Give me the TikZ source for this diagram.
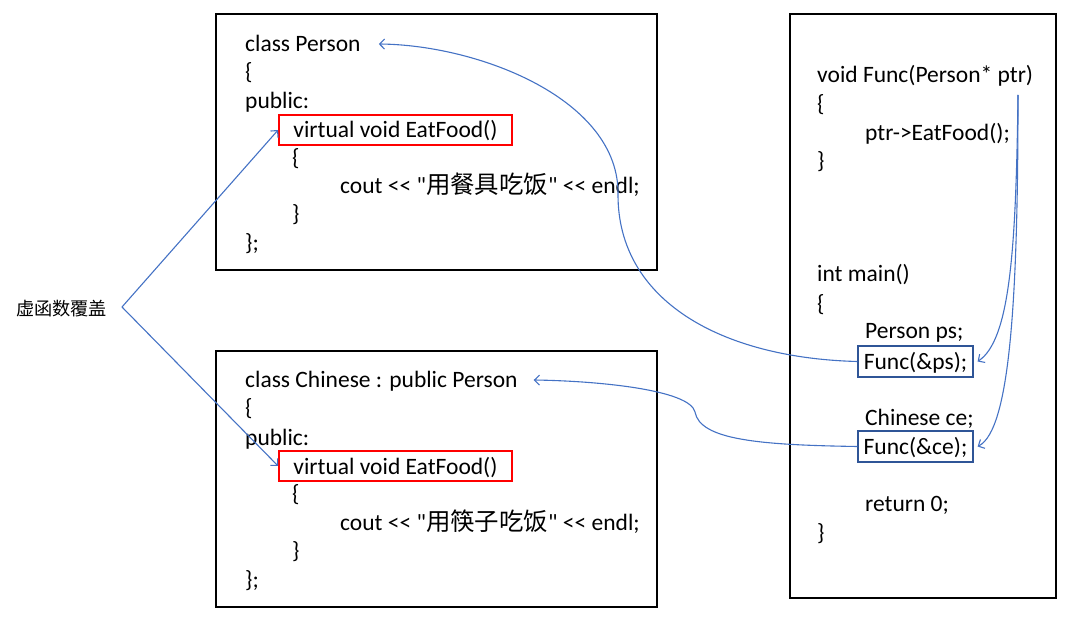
\documentclass[tikz,border=0pt]{standalone}
\usepackage{fontspec}
\setmainfont{Carlito}[Ligatures=TeXOff]
\newfontfamily\cjk{Noto Sans CJK SC}[Scale=1.04]
\usetikzlibrary{
  arrows.meta
}
\definecolor{linkblue}{HTML}{4472C4}
\definecolor{callblue}{HTML}{2F5597}
\tikzset{
  >={Straight Barb[length=5pt, width=10pt]},
  frame/.style = {draw, line width=2.2pt},
  code/.style = {anchor=west, inner sep=0pt, text height=18pt, text depth=2pt,
    font=\fontsize{23.5}{28}\selectfont},
  virt/.style = {code, anchor=center, draw=red, line width=1.8pt,
    minimum width=233pt, minimum height=30pt},
  call/.style = {code, anchor=center, draw=callblue, line width=1.2pt,
    minimum width=115pt, minimum height=31pt},
  link/.style = {->, draw=linkblue, line width=1.1pt},
}

\begin{document}
\begin{tikzpicture}[x=1pt, y=-1pt]
  \useasboundingbox (0,0) rectangle (1085,620);
  % class Person
  \draw[frame] (216,14) rectangle (657,270);
  \node[code] (classperson) at (245,44) {class Person};
  \node[code] at (245,72) {\{};
  \node[code] at (245,101) {public:};
  \node[virt] (personvirt) at (395.5,130) {virtual void EatFood()};
  \node[code] at (292,158) {\{};
  \node[code] at (340,186) {cout << "{\cjk 用餐具吃饭}" << endl;};
  \node[code] at (292,214) {\}};
  \node[code] at (245,243) {\};};
  % class Chinese
  \draw[frame] (216,351) rectangle (657,607);
  \node[code] (classchinese) at (245,380) {class Chinese : public Person};
  \node[code] at (245,408) {\{};
  \node[code] at (245,437) {public:};
  \node[virt] (chinesevirt) at (395.5,466) {virtual void EatFood()};
  \node[code] at (292,493) {\{};
  \node[code] at (340,522) {cout << "{\cjk 用筷子吃饭}" << endl;};
  \node[code] at (292,550) {\}};
  \node[code] at (245,579) {\};};
  % Func and main
  \draw[frame] (790,14) rectangle (1056,598);
  \node[code] (funcsig) at (817,75) {void Func(Person* ptr)};
  \node[code] at (817,104) {\{};
  \node[code] at (865,133) {ptr->EatFood();};
  \node[code] at (817,161) {\}};
  \node[code] at (817,274) {int main()};
  \node[code] at (817,304) {\{};
  \node[code] at (865,331) {Person ps;};
  \node[call] (funcps) at (915.5,361.5) {Func(\&ps);};
  \node[code] at (865,417) {Chinese ce;};
  \node[call] (funcce) at (915.5,446.5) {Func(\&ce);};
  \node[code] at (865,503) {return 0;};
  \node[code] at (817,532) {\}};
  \coordinate (ptr) at (1018,95);
  % override label
  \node[anchor=west, inner sep=0pt, font=\cjk\fontsize{17.5}{20}\selectfont]
    (override) at (16,309) {虚函数覆盖};
  \coordinate (fork) at (122,307);
  \draw[link] (fork) -- (personvirt.west);
  \draw[link] (fork) -- (chinesevirt.west);
  % calls
  \draw[link] (funcps.west) .. controls (720,358) and (618,300) .. (618,195)
    .. controls (620,100) and (480,45) .. ([xshift=18pt]classperson.east);
  \draw[link] (funcce.west) .. controls (760,445) and (700,440) .. (695,412)
    .. controls (690,390) and (600,381) .. ([xshift=16pt]classchinese.east);
  \draw[link] (ptr) .. controls (1016,250) and (1010,340) .. ([xshift=4pt]funcps.east);
  \draw[link] (ptr) .. controls (1018,300) and (1010,430) .. ([xshift=4pt]funcce.east);
\end{tikzpicture}
\end{document}
